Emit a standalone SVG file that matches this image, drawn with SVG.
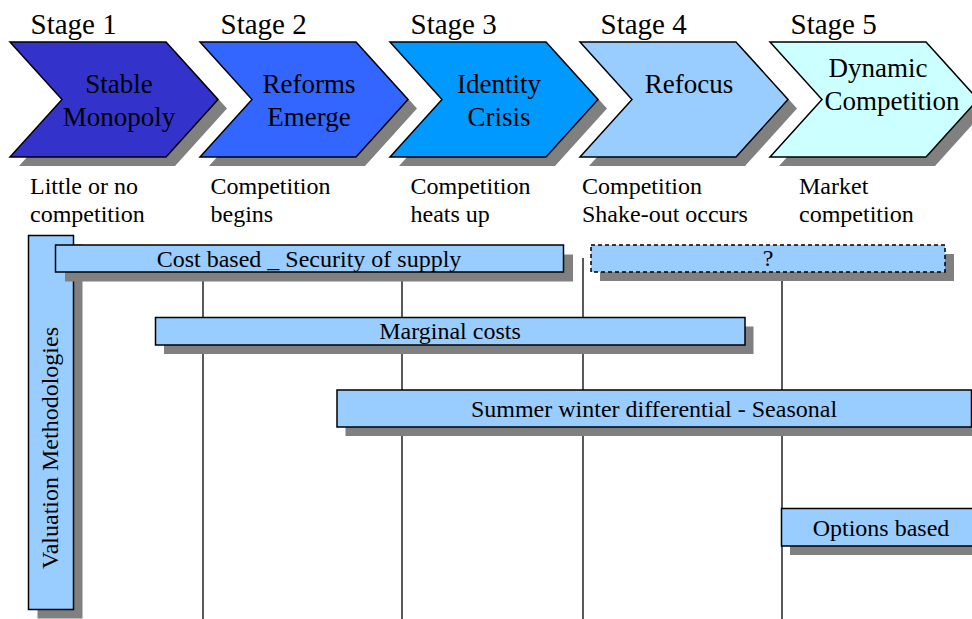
<svg xmlns="http://www.w3.org/2000/svg" xmlns:xlink="http://www.w3.org/1999/xlink" width="972" height="619" viewBox="0 0 972 619" font-family="'Liberation Serif', 'DejaVu Serif', serif">
  <style>
    text { font-family: "Liberation Serif", "DejaVu Serif", serif; fill: #000; }
    .stage { font-size: 29px; }
    .title { font-size: 27px; text-anchor: middle; }
    .desc { font-size: 24px; }
    .label { font-size: 24px; text-anchor: middle; }
    .shadow { fill: #808080; stroke: none; }
    .chev { stroke: #000; stroke-width: 1.5; stroke-linejoin: miter; }
    .bar { fill: #99CCFF; stroke: #000; stroke-width: 1.5; }
    .dashed { stroke-dasharray: 4 3; }
    .divider { stroke: #000; stroke-width: 1.3; fill: none; }
  </style>
  <defs>
    <!-- arrow-shaped stage marker, origin at its top-left corner -->
    <path id="chevron" d="M0,42 L156,42 L208,99.5 L156,157 L0,157 L52,99.5 Z"/>
  </defs>

  <rect x="0" y="0" width="972" height="619" fill="#fff"/>

  <!-- stage chevrons -->
  <g id="stage1">
    <text class="stage" x="30.5" y="33.5">Stage 1</text>
    <use xlink:href="#chevron" x="19" y="9" class="shadow"/>
    <use xlink:href="#chevron" x="10" y="0" class="chev" fill="#3333CC"/>
    <text class="title" x="119" y="93">Stable</text>
    <text class="title" x="119" y="126">Monopoly</text>
    <text class="desc" x="30" y="194">Little or no</text>
    <text class="desc" x="30" y="222">competition</text>
  </g>
  <g id="stage2">
    <text class="stage" x="220.5" y="33.5">Stage 2</text>
    <use xlink:href="#chevron" x="209" y="9" class="shadow"/>
    <use xlink:href="#chevron" x="200" y="0" class="chev" fill="#3366FF"/>
    <text class="title" x="309" y="93">Reforms</text>
    <text class="title" x="309" y="126">Emerge</text>
    <text class="desc" x="210.5" y="194">Competition</text>
    <text class="desc" x="210.5" y="222">begins</text>
  </g>
  <g id="stage3">
    <text class="stage" x="410.5" y="33.5">Stage 3</text>
    <use xlink:href="#chevron" x="399" y="9" class="shadow"/>
    <use xlink:href="#chevron" x="390" y="0" class="chev" fill="#0099FF"/>
    <text class="title" x="499" y="93">Identity</text>
    <text class="title" x="499" y="126">Crisis</text>
    <text class="desc" x="410.5" y="194">Competition</text>
    <text class="desc" x="410.5" y="222">heats up</text>
  </g>
  <g id="stage4">
    <text class="stage" x="600.5" y="33.5">Stage 4</text>
    <use xlink:href="#chevron" x="589" y="9" class="shadow"/>
    <use xlink:href="#chevron" x="580" y="0" class="chev" fill="#99CCFF"/>
    <text class="title" x="689" y="93">Refocus</text>
    <text class="desc" x="582" y="194">Competition</text>
    <text class="desc" x="582" y="222">Shake-out occurs</text>
  </g>
  <g id="stage5">
    <text class="stage" x="790.5" y="33.5">Stage 5</text>
    <use xlink:href="#chevron" x="779" y="9" class="shadow"/>
    <use xlink:href="#chevron" x="770" y="0" class="chev" fill="#CCFFFF"/>
    <text class="title" x="878" y="77">Dynamic</text>
    <text class="title" x="892" y="110">Competition</text>
    <text class="desc" x="799" y="194">Market</text>
    <text class="desc" x="799" y="222">competition</text>
  </g>

  <!-- stage boundary guides, drawn beneath the bars -->
  <g id="connectors">
    <line class="divider" x1="203" y1="258" x2="203" y2="619"/>
    <line class="divider" x1="402" y1="258" x2="402" y2="619"/>
    <line class="divider" x1="583" y1="258" x2="583" y2="619"/>
    <line class="divider" x1="782" y1="258" x2="782" y2="619"/>
  </g>

  <!-- valuation methodology bars -->
  <g id="valuation-methodologies">
    <rect class="shadow" x="37.5" y="244.5" width="45" height="374"/>
    <rect class="bar" x="28.5" y="235.5" width="45" height="374"/>
    <text class="desc" transform="translate(57.5,569) rotate(-90)">Valuation Methodologies</text>
  </g>
  <g id="cost-based">
    <rect class="shadow" x="65" y="254.5" width="508" height="27"/>
    <rect class="bar" x="55.5" y="245" width="508" height="27"/>
    <text class="label" x="309" y="266.5">Cost based _ Security of supply</text>
  </g>
  <g id="unknown">
    <rect class="shadow" x="600" y="254" width="354" height="27"/>
    <rect class="bar dashed" x="591" y="245" width="354" height="27"/>
    <text class="label" x="768" y="266">?</text>
  </g>
  <g id="marginal-costs">
    <rect class="shadow" x="164" y="326.5" width="589.5" height="27.5"/>
    <rect class="bar" x="155.5" y="317.5" width="589.5" height="27.5"/>
    <text class="label" x="450" y="339">Marginal costs</text>
  </g>
  <g id="seasonal">
    <rect class="shadow" x="345.5" y="399" width="640" height="37"/>
    <rect class="bar" x="337" y="390" width="634.5" height="37"/>
    <text class="label" x="654" y="416.5">Summer winter differential - Seasonal</text>
  </g>
  <g id="options-based">
    <rect class="shadow" x="790" y="517.5" width="200" height="37.5"/>
    <rect class="bar" x="781.5" y="508.5" width="200" height="37.5"/>
    <text class="label" x="881" y="535.5">Options based</text>
  </g>
</svg>
